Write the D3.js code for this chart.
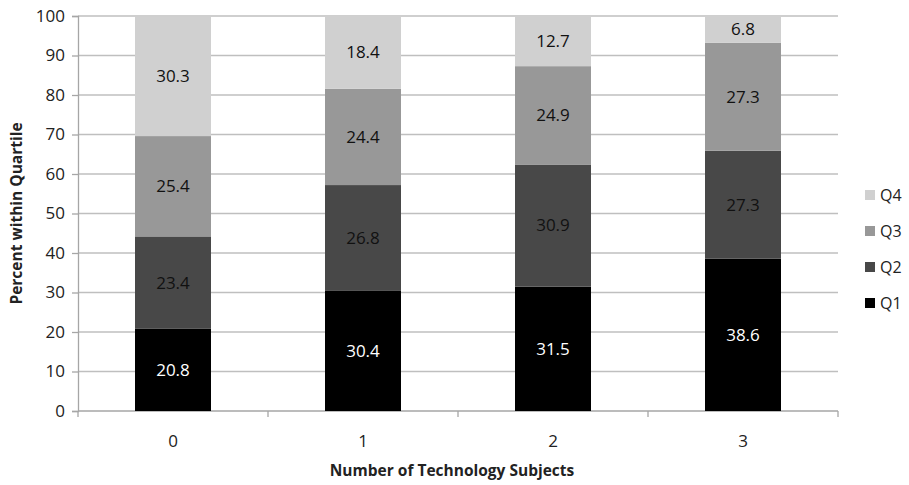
<!DOCTYPE html>
<html>
<head>
<meta charset="utf-8">
<script src="https://cdn.jsdelivr.net/npm/d3@7"></script>
<style>
  body { margin: 0; background: #fff; }
  text { font-family: "Open Sans", sans-serif; }
</style>
</head>
<body>
<div id="chart"></div>
<script>
const categories = ["0", "1", "2", "3"]
const quartiles = ["Q1", "Q2", "Q3", "Q4"]
const q1 = [20.8, 30.4, 31.5, 38.6]
const q2 = [23.4, 26.8, 30.9, 27.3]
const q3 = [25.4, 24.4, 24.9, 27.3]
const q4 = [30.3, 18.4, 12.7, 6.8]
const yTicks = [0, 10, 20, 30, 40, 50, 60, 70, 80, 90, 100]

const colors = { Q1: "#000000", Q2: "#484848", Q3: "#989898", Q4: "#d0d0d0" }
const labelColors = { Q1: "#ffffff", Q2: "#111", Q3: "#111", Q4: "#111" }

const W = 909, H = 485
const margin = { left: 78, top: 16, right: 71, bottom: 74 }
const width = W - margin.left - margin.right
const height = H - margin.top - margin.bottom

const rows = categories.map((c, i) => ({ cat: c, Q1: q1[i], Q2: q2[i], Q3: q3[i], Q4: q4[i] }))
const series = d3.stack().keys(quartiles)(rows)

const svg = d3.select("#chart").append("svg")
  .attr("width", W).attr("height", H)

const g = svg.append("g")
  .attr("transform", `translate(${margin.left},${margin.top})`)

const x = d3.scaleBand().domain(categories).range([0, width]).paddingInner(0.6).paddingOuter(0.3)
const xb = d3.scaleBand().domain(categories).range([0, width])
const y = d3.scaleLinear().domain([0, 100]).range([height, 0])

// gridlines
g.append("g").selectAll("line")
  .data(yTicks.filter(d => d > 0))
  .join("line")
  .attr("x1", 0).attr("x2", width)
  .attr("y1", d => y(d)).attr("y2", d => y(d))
  .attr("stroke", "#bfbfbf").attr("stroke-width", 1.3)

// y axis
const yAxis = g.append("g")
  .call(d3.axisLeft(y).tickValues(yTicks).tickSize(6).tickPadding(7))
yAxis.select(".domain").attr("stroke", "#a6a6a6").attr("stroke-width", 1.3)
yAxis.selectAll(".tick line").attr("stroke", "#a6a6a6").attr("stroke-width", 1.3)
yAxis.selectAll("text").attr("font-size", "17px").attr("fill", "#222")

// x axis
const xAxisG = g.append("g").attr("transform", `translate(0,${height})`)
xAxisG.append("line").attr("x1", 0).attr("x2", width).attr("stroke", "#a6a6a6").attr("stroke-width", 1.3)
xAxisG.selectAll(".xt")
  .data(categories.map(c => xb(c)).concat([width]))
  .join("line")
  .attr("x1", d => d).attr("x2", d => d)
  .attr("y1", 0).attr("y2", 6)
  .attr("stroke", "#a6a6a6").attr("stroke-width", 1.3)
xAxisG.selectAll("text")
  .data(categories)
  .join("text")
  .attr("x", d => xb(d) + xb.bandwidth() / 2)
  .attr("y", 36)
  .attr("text-anchor", "middle")
  .attr("font-size", "17px").attr("fill", "#222")
  .text(d => d)

// bars
const layers = g.append("g").selectAll("g")
  .data(series)
  .join("g")
  .attr("fill", d => colors[d.key])

layers.selectAll("rect")
  .data(d => d)
  .join("rect")
  .attr("x", d => x(d.data.cat))
  .attr("width", x.bandwidth())
  .attr("y", d => y(d[1]))
  .attr("height", d => y(d[0]) - y(d[1]))

// value labels
const lab = g.append("g")
series.forEach(s => {
  lab.selectAll(null)
    .data(s)
    .join("text")
    .attr("x", d => x(d.data.cat) + x.bandwidth() / 2)
    .attr("y", d => y((d[0] + d[1]) / 2))
    .attr("dy", "0.35em")
    .attr("text-anchor", "middle")
    .attr("font-size", "17px")
    .attr("fill", labelColors[s.key])
    .text(d => d.data[s.key].toFixed(1))
})

// axis titles
svg.append("text")
  .attr("transform", `translate(22,${margin.top + height / 2}) rotate(-90)`)
  .attr("text-anchor", "middle")
  .attr("font-size", "15.5px").attr("font-weight", "bold").attr("fill", "#222")
  .text("Percent within Quartile")

svg.append("text")
  .attr("x", margin.left + width / 2 - 6)
  .attr("y", 476)
  .attr("text-anchor", "middle")
  .attr("font-size", "15.5px").attr("font-weight", "bold").attr("fill", "#222")
  .text("Number of Technology Subjects")

// legend
const legend = svg.append("g").attr("transform", "translate(865,195)")
const legItems = legend.selectAll("g")
  .data(quartiles.slice().reverse())
  .join("g")
  .attr("transform", (d, i) => `translate(0,${i * 36})`)
legItems.append("rect")
  .attr("x", 0).attr("y", -5).attr("width", 10).attr("height", 10)
  .attr("fill", d => colors[d])
legItems.append("text")
  .attr("x", 15).attr("dy", "0.35em")
  .attr("font-size", "16px").attr("fill", "#222")
  .text(d => d)
</script>
</body>
</html>
